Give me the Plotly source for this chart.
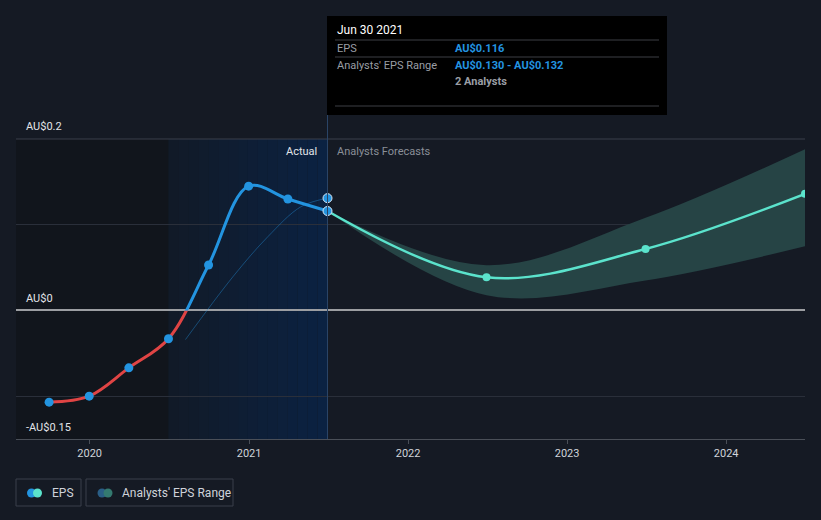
import plotly.graph_objects as go
import pandas as pd

# ---------------- data ----------------
eps_dates = ['2019-09-30', '2019-12-31', '2020-03-31', '2020-06-30',
             '2020-09-30', '2020-12-31', '2021-03-31', '2021-06-30']
eps_vals = [-0.107, -0.100, -0.067, -0.033, 0.053, 0.145, 0.130, 0.116]

past_fc_dates = ['2020-08-08', '2020-11-26', '2021-02-13', '2021-04-30', '2021-06-30']
past_fc_vals = [-0.034, 0.040, 0.086, 0.121, 0.131]

fc_dates = ['2021-06-30', '2022-06-30', '2023-06-30', '2024-06-30']
fc_vals = [0.116, 0.0387, 0.0717, 0.136]
fc_high = [0.116, 0.0527, 0.108, 0.188]
fc_low = [0.116, 0.0178, 0.035, 0.0748]

year_ticks = ['2020-01-01', '2021-01-01', '2022-01-01', '2023-01-01', '2024-01-01']
year_labels = ['2020', '2021', '2022', '2023', '2024']

x_range = ['2019-07-16', '2024-06-30']
y_min, y_max = -0.15, 0.2
actual_start = '2020-06-30'
forecast_start = '2021-06-30'

# ---------------- style ----------------
BG = '#151a24'
BLUE = '#2394e0'
RED = '#e04444'
TEAL = '#5be3cc'
GRID = '#2a2f3a'
TXT = '#e2e4e8'
GRAY = '#8a8f98'
FONT = 'Roboto'

W, H = 821, 520
ML, MR, MT, MB = 16, 16, 139, 81
PW = W - ML - MR
PH = H - MT - MB


def px(xp):
    return (xp - ML) / PW


def py(yp):
    return (H - MB - yp) / PH


zfrac = (0 - y_min) / (y_max - y_min)

fig = go.Figure()

# forecast band
fig.add_trace(go.Scatter(x=fc_dates, y=fc_low, mode='lines', line=dict(width=0, shape='spline'),
                         showlegend=False, hoverinfo='skip'))
fig.add_trace(go.Scatter(x=fc_dates, y=fc_high, mode='lines', line=dict(width=0, shape='spline'),
                         fill='tonexty', fillcolor='#264445', showlegend=False, hoverinfo='skip'))
# forecast line
fig.add_trace(go.Scatter(x=fc_dates, y=fc_vals, mode='lines+markers',
                         line=dict(color=TEAL, width=2.5, shape='spline'),
                         marker=dict(color=TEAL, size=8), showlegend=False, hoverinfo='skip'))
# past forecast thin line
fig.add_trace(go.Scatter(x=past_fc_dates, y=past_fc_vals, mode='lines',
                         line=dict(color='rgba(35,148,224,0.4)', width=1, shape='spline'),
                         showlegend=False, hoverinfo='skip'))

# EPS line: red below zero, blue above (clipped by subplot domains)
fig.add_trace(go.Scatter(x=eps_dates, y=eps_vals, mode='lines', yaxis='y2',
                         line=dict(color=RED, width=3, shape='spline'),
                         showlegend=False, hoverinfo='skip'))
fig.add_trace(go.Scatter(x=eps_dates, y=eps_vals, mode='lines', yaxis='y3',
                         line=dict(color=BLUE, width=3, shape='spline'),
                         showlegend=False, hoverinfo='skip'))

neg_d = [d for d, v in zip(eps_dates, eps_vals) if v < 0]
neg_v = [v for v in eps_vals if v < 0]
pos_d = [d for d, v in zip(eps_dates[:-1], eps_vals[:-1]) if v >= 0]
pos_v = [v for v in eps_vals[:-1] if v >= 0]
fig.add_trace(go.Scatter(x=neg_d, y=neg_v, mode='markers', yaxis='y2', cliponaxis=False,
                         marker=dict(color=BLUE, size=9), showlegend=False, hoverinfo='skip'))
fig.add_trace(go.Scatter(x=pos_d, y=pos_v, mode='markers', yaxis='y3', cliponaxis=False,
                         marker=dict(color=BLUE, size=9), showlegend=False, hoverinfo='skip'))
# highlighted points at Jun 30 2021
fig.add_trace(go.Scatter(x=[eps_dates[-1], past_fc_dates[-1]], y=[eps_vals[-1], past_fc_vals[-1]],
                         mode='markers', yaxis='y3', cliponaxis=False,
                         marker=dict(color=BLUE, size=9, line=dict(color='#d8e6f5', width=1)),
                         showlegend=False, hoverinfo='skip'))

shapes = []
# background regions
shapes.append(dict(type='rect', xref='x', yref='paper', x0=x_range[0], x1=actual_start, y0=0, y1=1,
                   fillcolor='#11151c', line=dict(width=0), layer='below'))
# horizontal gradient for the "actual" highlight (strips)
n_strips = 16
edges = pd.date_range(actual_start, forecast_start, periods=n_strips + 1)
c0 = (17, 26, 40)
c1 = (11, 34, 66)
for i in range(n_strips):
    t = i / (n_strips - 1)
    col = 'rgb(%d,%d,%d)' % tuple(round(a + (b - a) * t) for a, b in zip(c0, c1))
    shapes.append(dict(type='rect', xref='x', yref='paper', x0=edges[i], x1=edges[i + 1], y0=0, y1=1,
                       fillcolor=col, line=dict(width=0), layer='below'))
# top gridline
shapes.append(dict(type='line', xref='paper', yref='paper', x0=0, x1=1, y0=1, y1=1,
                   line=dict(color='#3a3f4a', width=1), layer='below'))
# hover line
shapes.append(dict(type='line', xref='x', yref='paper', x0=forecast_start, x1=forecast_start,
                   y0=0, y1=py(115), line=dict(color='#2a4466', width=1), layer='above'))
# tooltip
shapes.append(dict(type='rect', xref='paper', yref='paper', x0=px(327), x1=px(667), y0=py(115), y1=py(16),
                   fillcolor='#000000', line=dict(width=0), layer='above'))
for yy in (40, 57, 106):
    shapes.append(dict(type='line', xref='paper', yref='paper', x0=px(335), x1=px(659), y0=py(yy), y1=py(yy),
                       line=dict(color='#3c3f44', width=1), layer='above'))
# legend boxes
for x0, x1 in ((16, 81), (86, 233)):
    shapes.append(dict(type='rect', xref='paper', yref='paper', x0=px(x0), x1=px(x1), y0=py(506), y1=py(479),
                       line=dict(color='#3a3f4a', width=1), fillcolor='rgba(0,0,0,0)', layer='above'))
for cx, col in ((31.5, BLUE), (37.5, TEAL), (102, '#2a5e86'), (108, '#347a70')):
    shapes.append(dict(type='circle', xref='paper', yref='paper', x0=px(cx - 4.5), x1=px(cx + 4.5),
                       y0=py(497.5), y1=py(488.5), fillcolor=col, line=dict(width=0), layer='above'))

ann = []


def add_text(text, x, y, color=TXT, size=11, anchor='left', bold=False):
    if bold:
        text = '<b>' + text + '</b>'
    ann.append(dict(text=text, xref='paper', yref='paper', x=px(x), y=py(y), xanchor=anchor, yanchor='middle',
                    showarrow=False, font=dict(family=FONT, size=size, color=color)))


add_text('AU$0.2', 24, 127)
add_text('AU$0', 24, 298)
add_text('-AU$0.15', 24, 427)
add_text('Actual', 319, 151, color=TXT, anchor='right')
add_text('Analysts Forecasts', 335, 151, color=GRAY)
add_text('Jun 30 2021', 335, 30, color='#ffffff', size=12)
add_text('EPS', 335, 48, color='#9a9ea5')
add_text('AU$0.116', 453, 48, color=BLUE, bold=True)
add_text("Analysts' EPS Range", 335, 65, color='#9a9ea5')
add_text('AU$0.130 - AU$0.132', 453, 65, color=BLUE, bold=True)
add_text('2 Analysts', 453, 81, color='#9a9ea5', bold=True)
add_text('EPS', 50, 493, color='#cfd3da', size=12)
add_text("Analysts' EPS Range", 120, 493, color='#cfd3da', size=12)

fig.update_layout(
    width=W, height=H,
    margin=dict(l=ML, r=MR, t=MT, b=MB),
    paper_bgcolor=BG, plot_bgcolor='rgba(0,0,0,0)',
    font=dict(family=FONT, color=TXT),
    showlegend=False,
    hovermode=False,
    shapes=shapes,
    annotations=ann,
    xaxis=dict(type='date', range=x_range, tickvals=year_ticks, ticktext=year_labels,
               showgrid=False, zeroline=False, showline=True, linecolor='#4a4f58', linewidth=1,
               ticks='outside', ticklen=4, tickcolor='#4a4f58',
               tickfont=dict(family=FONT, size=11, color='#d0d4da'), fixedrange=True),
    yaxis=dict(range=[y_min, y_max], tickvals=[-0.1, 0.1], showticklabels=False,
               showgrid=True, gridcolor=GRID, gridwidth=1,
               zeroline=True, zerolinecolor='#9c9ea2', zerolinewidth=1.5, fixedrange=True),
    yaxis2=dict(domain=[0, zfrac], range=[y_min, 0], visible=False, anchor='x', fixedrange=True),
    yaxis3=dict(domain=[zfrac, 1], range=[0, y_max], visible=False, anchor='x', fixedrange=True),
)

fig.write_html('out.html')
